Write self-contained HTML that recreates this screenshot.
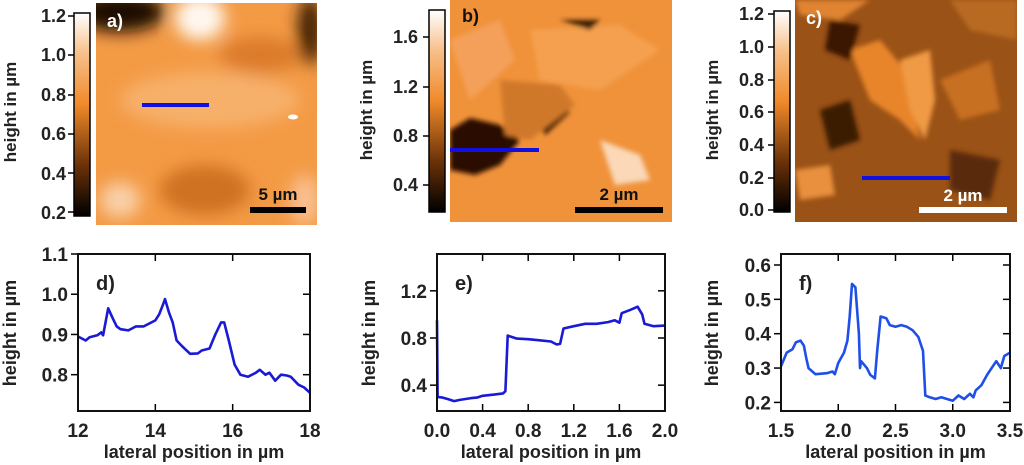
<!DOCTYPE html>
<html><head><meta charset="utf-8"><style>
html,body{margin:0;padding:0;background:#fff;}
svg{display:block;font-family:"Liberation Sans",sans-serif;}
text{font-weight:700;}
</style></head><body>
<svg id="fig" width="1024" height="465" viewBox="0 0 1024 465">
<defs>
<linearGradient id="cbar" x1="0" y1="1" x2="0" y2="0">
<stop offset="0" stop-color="#000"/><stop offset="0.25" stop-color="#6b3208"/><stop offset="0.55" stop-color="#f08a2a"/><stop offset="0.8" stop-color="#f7c08a"/><stop offset="1" stop-color="#fff"/>
</linearGradient>
<filter id="blur8"><feGaussianBlur stdDeviation="8"/></filter>
<filter id="blur3"><feGaussianBlur stdDeviation="2.5"/></filter>
<clipPath id="ca"><rect x="96" y="3" width="221" height="222"/></clipPath>
<clipPath id="cb"><rect x="450" y="0" width="222" height="222"/></clipPath>
<clipPath id="cc"><rect x="795" y="0" width="222" height="222"/></clipPath>
</defs>

<!-- Image a -->
<g clip-path="url(#ca)">
<rect x="96" y="3" width="221" height="222" fill="#f39a45"/>
<g filter="url(#blur8)">
<ellipse cx="120" cy="12" rx="45" ry="20" fill="#1a0800"/>
<ellipse cx="310" cy="30" rx="12" ry="35" fill="#3a1a05"/>
<ellipse cx="200" cy="18" rx="25" ry="22" fill="#fff8f0"/>
<ellipse cx="260" cy="55" rx="40" ry="18" fill="#dc7c2c"/>
<ellipse cx="205" cy="190" rx="45" ry="25" fill="#cf7222"/>
<ellipse cx="120" cy="200" rx="20" ry="18" fill="#f9d0a8"/>
<ellipse cx="305" cy="200" rx="15" ry="25" fill="#f9c090"/>
<ellipse cx="210" cy="100" rx="90" ry="28" fill="#f7b06a"/>
</g>
<ellipse cx="293" cy="117" rx="5" ry="2.5" fill="#fff"/>
</g>
<rect x="74" y="13" width="16" height="203" fill="url(#cbar)" stroke="#000" stroke-width="1.5"/>
<g font-size="18" text-anchor="end" fill="#222">
<text x="66" y="22">1.2</text><text x="66" y="61">1.0</text><text x="66" y="101">0.8</text><text x="66" y="140">0.6</text><text x="66" y="180">0.4</text><text x="66" y="219">0.2</text>
</g>
<g stroke="#000" stroke-width="1.5"><line x1="68" y1="16" x2="74" y2="16"/><line x1="68" y1="55" x2="74" y2="55"/><line x1="68" y1="95" x2="74" y2="95"/><line x1="68" y1="134" x2="74" y2="134"/><line x1="68" y1="173" x2="74" y2="173"/><line x1="68" y1="212" x2="74" y2="212"/></g>
<text transform="translate(16,112) rotate(-90)" font-size="17" text-anchor="middle" fill="#222">height in µm</text>
<text x="107" y="27" font-size="18" fill="#fff">a)</text>
<rect x="142" y="103" width="67" height="4" fill="#1010e0"/>
<rect x="250" y="207" width="56" height="6" fill="#000"/>
<text x="278" y="200" font-size="17" text-anchor="middle" fill="#111">5 µm</text>

<!-- Image b -->
<g clip-path="url(#cb)">
<rect x="450" y="0" width="222" height="222" fill="#f0923a"/>
<g filter="url(#blur3)">
<polygon points="450,130 470,118 500,125 520,140 500,165 475,175 450,170" fill="#2a1000"/>
<polygon points="535,115 560,105 570,112 545,135" fill="#2a1000"/>
<polygon points="500,80 560,85 575,105 530,140 505,135" fill="#d0782a"/>
<polygon points="600,140 640,155 650,180 615,185" fill="#fad8b8"/>
<polygon points="530,30 620,25 660,50 600,90 540,80" fill="#f4a050"/>
<polygon points="560,20 600,20 590,30" fill="#3a1a05"/>
<polygon points="450,40 500,20 515,60 470,100" fill="#f4a05a"/>
</g>
</g>
<rect x="429" y="10" width="16" height="202" fill="url(#cbar)" stroke="#000" stroke-width="1.5"/>
<g font-size="18" text-anchor="end" fill="#222">
<text x="418" y="43">1.6</text><text x="418" y="93">1.2</text><text x="418" y="142">0.8</text><text x="418" y="191">0.4</text>
</g>
<g stroke="#000" stroke-width="1.5"><line x1="423" y1="37" x2="429" y2="37"/><line x1="423" y1="87" x2="429" y2="87"/><line x1="423" y1="136" x2="429" y2="136"/><line x1="423" y1="185" x2="429" y2="185"/></g>
<text transform="translate(372,110) rotate(-90)" font-size="17" text-anchor="middle" fill="#222">height in µm</text>
<text x="462" y="22" font-size="18" fill="#111">b)</text>
<rect x="450" y="148" width="89" height="4" fill="#1010e0"/>
<rect x="575" y="207" width="88" height="6" fill="#000"/>
<text x="619" y="200" font-size="17" text-anchor="middle" fill="#111">2 µm</text>

<!-- Image c -->
<g clip-path="url(#cc)">
<rect x="795" y="0" width="222" height="222" fill="#9a5216"/>
<g filter="url(#blur3)">
<polygon points="850,50 880,40 905,70 920,140 900,120 870,100" fill="#e8852a"/>
<polygon points="900,60 930,50 935,100 925,140 910,110" fill="#f09a45"/>
<polygon points="795,0 870,0 840,20 800,15" fill="#e08430"/>
<polygon points="795,170 830,165 835,195 800,200" fill="#e8903e"/>
<polygon points="940,80 990,60 1000,110 960,120" fill="#c87020"/>
<polygon points="830,20 860,25 850,60 825,50" fill="#3a1805"/>
<polygon points="950,150 1000,160 990,200 950,190" fill="#5a2a08"/>
<polygon points="820,110 850,100 860,140 830,150" fill="#3a1a05"/>
<polygon points="950,0 1017,0 1017,40 970,30" fill="#b86a20"/>
</g>
</g>
<rect x="774" y="11" width="16" height="201" fill="url(#cbar)" stroke="#000" stroke-width="1.5"/>
<g font-size="18" text-anchor="end" fill="#222">
<text x="764" y="20">1.2</text><text x="764" y="53">1.0</text><text x="764" y="86">0.8</text><text x="764" y="118">0.6</text><text x="764" y="151">0.4</text><text x="764" y="184">0.2</text><text x="764" y="216">0.0</text>
</g>
<g stroke="#000" stroke-width="1.5"><line x1="768" y1="14" x2="774" y2="14"/><line x1="768" y1="47" x2="774" y2="47"/><line x1="768" y1="80" x2="774" y2="80"/><line x1="768" y1="112" x2="774" y2="112"/><line x1="768" y1="145" x2="774" y2="145"/><line x1="768" y1="178" x2="774" y2="178"/><line x1="768" y1="210" x2="774" y2="210"/></g>
<text transform="translate(718,110) rotate(-90)" font-size="17" text-anchor="middle" fill="#222">height in µm</text>
<text x="806" y="24" font-size="18" fill="#fff">c)</text>
<rect x="862" y="176" width="88" height="4" fill="#1010e0"/>
<rect x="919" y="207" width="88" height="6" fill="#fff"/>
<text x="963" y="201" font-size="17" text-anchor="middle" fill="#fff">2 µm</text>

<g id="plots"></g>
</svg>
<script>
const dX=[12.0,12.2,12.3,12.5,12.6,12.65,12.78,12.9,13.0,13.1,13.3,13.5,13.7,13.9,14.0,14.1,14.2,14.25,14.35,14.45,14.55,14.7,14.9,15.1,15.2,15.4,15.55,15.7,15.78,15.9,16.05,16.2,16.4,16.6,16.7,16.85,16.95,17.1,17.25,17.4,17.5,17.7,17.85,18.0];
const dY=[0.895,0.885,0.893,0.898,0.905,0.898,0.965,0.94,0.92,0.913,0.91,0.92,0.92,0.93,0.935,0.95,0.975,0.988,0.955,0.93,0.885,0.87,0.852,0.853,0.86,0.865,0.9,0.93,0.93,0.885,0.825,0.8,0.795,0.805,0.812,0.8,0.805,0.785,0.8,0.798,0.795,0.775,0.768,0.755];
const eX=[0.0,0.005,0.05,0.1,0.15,0.2,0.3,0.35,0.4,0.5,0.58,0.6,0.62,0.7,0.8,0.9,1.0,1.05,1.08,1.11,1.2,1.3,1.4,1.5,1.56,1.6,1.62,1.7,1.76,1.8,1.82,1.9,2.0];
const eY=[0.95,0.3,0.295,0.28,0.265,0.275,0.29,0.295,0.31,0.32,0.33,0.35,0.82,0.795,0.79,0.78,0.77,0.745,0.75,0.88,0.9,0.92,0.92,0.935,0.95,0.93,1.01,1.04,1.065,1.0,0.92,0.9,0.905];
const fX=[1.5,1.55,1.6,1.63,1.67,1.7,1.72,1.74,1.8,1.9,1.95,1.97,2.0,2.05,2.08,2.1,2.12,2.15,2.18,2.19,2.2,2.25,2.28,2.32,2.34,2.37,2.42,2.45,2.5,2.55,2.6,2.65,2.7,2.74,2.76,2.8,2.85,2.9,2.95,3.0,3.05,3.1,3.15,3.18,3.2,3.25,3.3,3.35,3.38,3.42,3.45,3.5];
const fY=[0.305,0.345,0.355,0.375,0.38,0.365,0.33,0.3,0.282,0.285,0.29,0.282,0.315,0.345,0.38,0.45,0.545,0.535,0.4,0.3,0.32,0.3,0.28,0.27,0.35,0.45,0.445,0.425,0.42,0.425,0.42,0.41,0.39,0.35,0.22,0.215,0.21,0.215,0.21,0.205,0.22,0.21,0.225,0.215,0.235,0.25,0.28,0.305,0.32,0.3,0.335,0.345];
const dXTicks=[12,14,16,18], dYTicks=[0.8,0.9,1.0,1.1];
const eXTicks=[0.0,0.4,0.8,1.2,1.6,2.0], eYTicks=[0.4,0.8,1.2];
const fXTicks=[1.5,2.0,2.5,3.0,3.5], fYTicks=[0.2,0.3,0.4,0.5,0.6];

const NS='http://www.w3.org/2000/svg';
const root=document.getElementById('plots');
function mk(tag,attrs,parent){const el=document.createElementNS(NS,tag);for(const k in attrs)el.setAttribute(k,attrs[k]);(parent||root).appendChild(el);return el;}

function plot(p){
  const g=mk('g',{});
  
  
  const sx=v=>p.x0+(v-p.xmin)/(p.xmax-p.xmin)*(p.x1-p.x0);
  const sy=v=>p.y1-(v-p.ymin)/(p.ymax-p.ymin)*(p.y1-p.y0);
  p.xt.forEach((t,i)=>{
    const x=sx(t);
    mk('line',{x1:x,y1:p.y1,x2:x,y2:p.y1-7,stroke:'#000','stroke-width':1.5},g);
    mk('line',{x1:x,y1:p.y0,x2:x,y2:p.y0+7,stroke:'#000','stroke-width':1.5},g);
    const tx=mk('text',{x:x,y:p.y1+26,'font-size':19,'text-anchor':'middle',fill:'#222'},g);
    tx.textContent=p.xl[i];
    
    
  });
  p.yt.forEach((t,i)=>{
    const y=sy(t);
    mk('line',{x1:p.x0-7,y1:y,x2:p.x0,y2:y,stroke:'#000','stroke-width':1.5},g);
    mk('line',{x1:p.x1,y1:y,x2:p.x1-7,y2:y,stroke:'#000','stroke-width':1.5},g);
    const ty=mk('text',{x:p.x0-10,y:y+7,'font-size':19,'text-anchor':'end',fill:'#222'},g);
    ty.textContent=p.yl[i];
    
    
  });
  const pts=p.xs.map((v,i)=>sx(v).toFixed(1)+','+sy(p.ys[i]).toFixed(1)).join(' ');
  const ln=mk('polyline',{points:pts,fill:'none',stroke:p.color,'stroke-width':2.6,'stroke-linejoin':'round'},g);
  
  
  mk('rect',{x:p.x0,y:p.y0,width:p.x1-p.x0,height:p.y1-p.y0,fill:'none',stroke:'#111','stroke-width':2},g);
  const lab=mk('text',{x:p.x0+18,y:p.y0+36,'font-size':20,fill:'#222'},g);
  lab.textContent=p.id+')';
  
  
  const xt=mk('text',{x:(p.x0+p.x1)/2,y:458,'font-size':18,'text-anchor':'middle',fill:'#222'},g);
  xt.textContent='lateral position in µm';
  
  
  const yt=mk('text',{transform:'translate('+p.ytx+',333) rotate(-90)','font-size':18,'text-anchor':'middle',fill:'#222'},g);
  yt.textContent='height in µm';
  
  
}
plot({id:'d',x0:78,x1:310,y0:254,y1:411,xmin:12,xmax:18,ymin:0.7097,ymax:1.1,xs:dX,ys:dY,xt:dXTicks,xl:['12','14','16','18'],yt:dYTicks,yl:['0.8','0.9','1.0','1.1'],color:'#1a1ad6',ytx:16});
plot({id:'e',x0:437,x1:665,y0:254,y1:411,xmin:0,xmax:2,ymin:0.181,ymax:1.512,xs:eX,ys:eY,xt:eXTicks,xl:['0.0','0.4','0.8','1.2','1.6','2.0'],yt:eYTicks,yl:['0.4','0.8','1.2'],color:'#1a1ad6',ytx:375});
plot({id:'f',x0:781,x1:1010,y0:254,y1:411,xmin:1.5,xmax:3.5,ymin:0.175,ymax:0.632,xs:fX,ys:fY,xt:fXTicks,xl:['1.5','2.0','2.5','3.0','3.5'],yt:fYTicks,yl:['0.2','0.3','0.4','0.5','0.6'],color:'#1f4fe8',ytx:718});
</script>
</body></html>
